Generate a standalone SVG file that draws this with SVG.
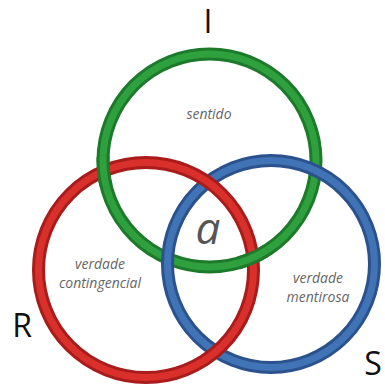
<svg xmlns="http://www.w3.org/2000/svg" xmlns:xlink="http://www.w3.org/1999/xlink" width="385" height="385" viewBox="0 0 385 385">
  <style>
    .ring { fill: none; }
    .edge { stroke-width: 13; }
    .core { stroke-width: 7; }
    .g .edge { stroke: #1d7a2b; }
    .g .core { stroke: #2ea03e; }
    .r .edge { stroke: #a81c1c; }
    .r .core { stroke: #d9302b; }
    .b .edge { stroke: #2b528c; }
    .b .core { stroke: #4174b6; }
    .big { font-family: "Open Sans", "Liberation Sans", sans-serif; font-size: 32px; fill: #111; text-anchor: middle; }
    .lbl { font-family: "Open Sans", "Noto Sans", sans-serif; font-style: italic; font-size: 14px; fill: #666; text-anchor: middle; }
    .sym { font-family: "Open Sans", "Noto Sans", sans-serif; font-style: italic; font-size: 44px; fill: #555; text-anchor: middle; }
  </style>
  <defs>
    <g id="greenShape" class="ring g">
      <circle class="edge" cx="209.5" cy="160.5" r="106.5"/>
      <circle class="core" cx="209.5" cy="160.5" r="106.5"/>
    </g>
    <clipPath id="clipG">
      <circle cx="103.6" cy="171.2" r="16"/>
      <circle cx="252.8" cy="257.8" r="16"/>
    </clipPath>
  </defs>
  <rect width="385" height="385" fill="#ffffff"/>

  <g id="ring-I">
    <use xlink:href="#greenShape" href="#greenShape"/>
  </g>
  <g id="ring-S" class="ring b">
    <circle class="edge" cx="271" cy="264" r="103.5"/>
    <circle class="core" cx="271" cy="264" r="103.5"/>
  </g>
  <g id="ring-R" class="ring r">
    <circle class="edge" cx="146" cy="270" r="107.5"/>
    <circle class="core" cx="146" cy="270" r="107.5"/>
  </g>
  <g id="ring-I-over" clip-path="url(#clipG)">
    <use xlink:href="#greenShape" href="#greenShape"/>
  </g>

  <g id="label-I"><text class="big" x="208" y="33">I</text></g>
  <g id="label-R"><text class="big" x="22" y="337">R</text></g>
  <g id="label-S"><text class="big" x="373" y="375">S</text></g>

  <g id="text-sentido"><text class="lbl" x="209" y="119">sentido</text></g>
  <g id="text-a"><text class="sym" x="208" y="244">a</text></g>
  <g id="text-contingencial">
    <text class="lbl" x="100" y="269"><tspan x="100">verdade</tspan><tspan x="100" dy="19">contingencial</tspan></text>
  </g>
  <g id="text-mentirosa">
    <text class="lbl" x="318" y="283"><tspan x="318">verdade</tspan><tspan x="318" dy="19">mentirosa</tspan></text>
  </g>
</svg>
